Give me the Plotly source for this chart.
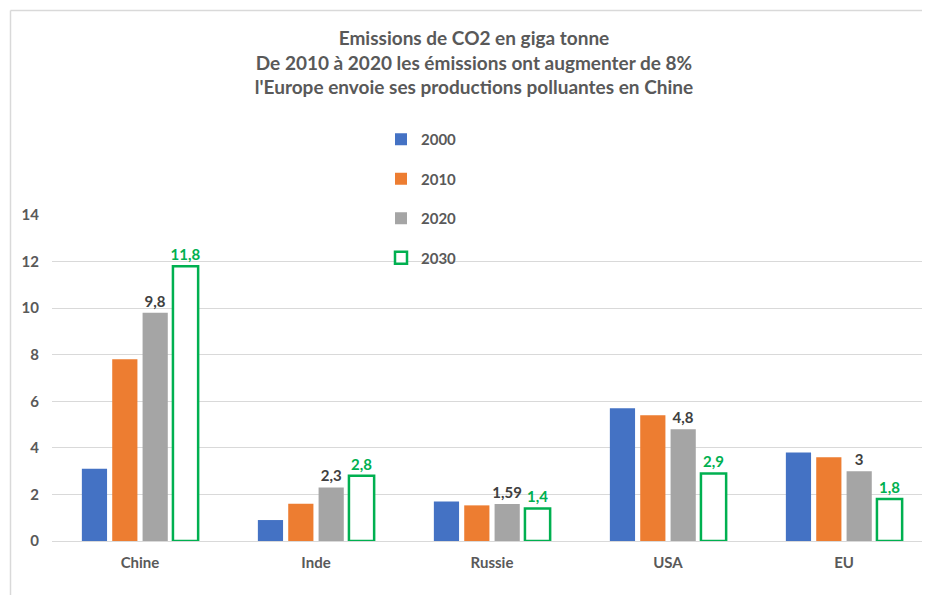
import plotly.graph_objects as go

categories = ["Chine", "Inde", "Russie", "USA", "EU"]
years = ["2000", "2010", "2020", "2030"]
v2000 = [3.1, 0.9, 1.7, 5.7, 3.8]
v2010 = [7.8, 1.6, 1.53, 5.4, 3.6]
v2020 = [9.8, 2.3, 1.59, 4.8, 3.0]
v2030 = [11.8, 2.8, 1.4, 2.9, 1.8]
y_ticks = [0, 2, 4, 6, 8, 10, 12, 14]

# page body has an 8px margin, so the figure is shrunk and offset accordingly
OFF = 8
W, H = 930 - 2 * OFF, 611 - 2 * OFF - 8
L, R, T, B = 44, 0, 207, 54
pw, ph = W - L - R, H - T - B
CAT_PX = 176

def px_x(p):
    return (p - OFF - L) / pw

def px_y(p):
    return (H - B - (p - OFF)) / ph

FONT = "Lato, Carlito, Calibri, sans-serif"
GREY = "#595959"

fig = go.Figure()
series = [
    (years[0], v2000, "#4472C4", None),
    (years[1], v2010, "#ED7D31", None),
    (years[2], v2020, "#A5A5A5", "#404040"),
]
for name, vals, col, lab in series:
    fig.add_trace(go.Bar(
        x=categories, y=vals, name=name, legendgroup=name,
        marker=dict(color=col, line=dict(width=0)),
        texttemplate="%{y}" if lab else None,
        textposition="outside" if lab else "none",
        constraintext="none",
        textfont=dict(family=FONT, size=15, color=lab or GREY, weight="bold"),
        cliponaxis=False,
    ))
fig.add_trace(go.Bar(
    x=categories, y=v2030, name=years[3], legendgroup=years[3],
    marker=dict(color="white", line=dict(color="#00B050", width=2.5)),
    texttemplate="%{y}", textposition="outside", constraintext="none",
    textfont=dict(family=FONT, size=15, color="#00B050", weight="bold"),
    cliponaxis=False,
))

fig.update_layout(
    width=W, height=H,
    margin=dict(l=L, r=R, t=T, b=B),
    paper_bgcolor="white", plot_bgcolor="white",
    separators=", ",
    font=dict(family=FONT, color=GREY, size=14),
    barmode="group", bargap=0.31, bargroupgap=0.17,
    title=dict(
        text="Emissions de CO2 en giga tonne<br>De 2010 à 2020 les émissions ont augmenter de 8%<br>l'Europe envoie ses productions polluantes en Chine",
        x=(474 - OFF) / W, xanchor="center", xref="container",
        y=1 - 37 / H, yanchor="top", yref="container",
        font=dict(family=FONT, size=19, color=GREY, weight="bold"),
    ),
    legend=dict(
        orientation="v", x=px_x(381), xanchor="left", y=px_y(123), yanchor="top",
        font=dict(family=FONT, size=15, color=GREY, weight="bold"),
        tracegroupgap=17, bgcolor="rgba(0,0,0,0)",
    ),
    xaxis=dict(range=[-0.5, -0.5 + pw / CAT_PX], showgrid=False, showline=False,
               ticks="", ticklabelstandoff=11,
               tickfont=dict(family=FONT, size=15, color=GREY, weight="bold")),
    yaxis=dict(range=[0, 14], tickvals=y_ticks, showgrid=True, gridcolor="#D9D9D9",
               gridwidth=1, zeroline=True, zerolinecolor="#D9D9D9", zerolinewidth=1,
               showline=False, ticks="", ticklabelstandoff=12,
               tickfont=dict(family=FONT, size=15, color=GREY, weight="bold")),
    shapes=[
        dict(type="line", xref="paper", yref="paper", x0=px_x(10.5), x1=1.0,
             y0=px_y(10.5), y1=px_y(10.5), line=dict(color="#D9D9D9", width=1.5)),
        dict(type="line", xref="paper", yref="paper", x0=px_x(10.5), x1=px_x(10.5),
             y0=px_y(10.5), y1=-B / ph, line=dict(color="#D9D9D9", width=1.5)),
    ],
)

fig.write_html("out.html")
